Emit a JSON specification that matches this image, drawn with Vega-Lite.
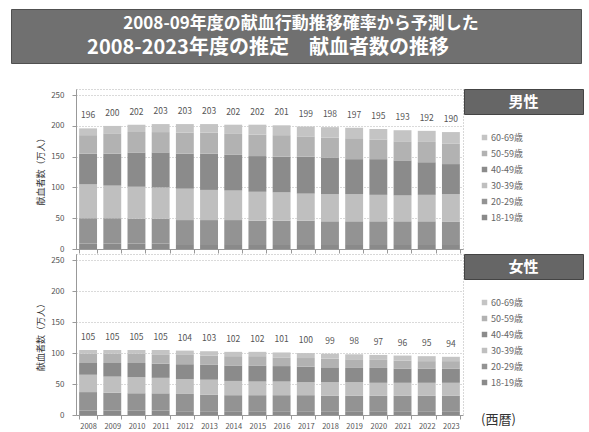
{
  "$schema": "https://vega.github.io/schema/vega-lite/v6.json",
  "padding": {"left": 10, "top": 8, "right": 0, "bottom": 0},
  "background": "white",
  "config": {
    "font": "Noto Sans CJK JP",
    "view": {"stroke": null},
    "axisY": {"gridColor": "#b5b5b5", "gridDash": [1, 2]}
  },
  "datasets": {
    "male": [
      {"year": "2008", "total": 196, "18-19歳": 9, "20-29歳": 41, "30-39歳": 55, "40-49歳": 50, "50-59歳": 30, "60-69歳": 11},
      {"year": "2009", "total": 200, "18-19歳": 9, "20-29歳": 41, "30-39歳": 53, "40-49歳": 52, "50-59歳": 33, "60-69歳": 12},
      {"year": "2010", "total": 202, "18-19歳": 9, "20-29歳": 40, "30-39歳": 52, "40-49歳": 56, "50-59歳": 33, "60-69歳": 12},
      {"year": "2011", "total": 203, "18-19歳": 9, "20-29歳": 40, "30-39歳": 51, "40-49歳": 57, "50-59歳": 33, "60-69歳": 13},
      {"year": "2012", "total": 203, "18-19歳": 8, "20-29歳": 39, "30-39歳": 51, "40-49歳": 57, "50-59歳": 34, "60-69歳": 14},
      {"year": "2013", "total": 203, "18-19歳": 8, "20-29歳": 39, "30-39歳": 49, "40-49歳": 59, "50-59歳": 34, "60-69歳": 14},
      {"year": "2014", "total": 202, "18-19歳": 8, "20-29歳": 39, "30-39歳": 48, "40-49歳": 58, "50-59歳": 34, "60-69歳": 15},
      {"year": "2015", "total": 202, "18-19歳": 8, "20-29歳": 38, "30-39歳": 47, "40-49歳": 58, "50-59歳": 35, "60-69歳": 16},
      {"year": "2016", "total": 201, "18-19歳": 8, "20-29歳": 38, "30-39歳": 46, "40-49歳": 58, "50-59歳": 35, "60-69歳": 16},
      {"year": "2017", "total": 199, "18-19歳": 8, "20-29歳": 38, "30-39歳": 44, "40-49歳": 60, "50-59歳": 33, "60-69歳": 16},
      {"year": "2018", "total": 198, "18-19歳": 8, "20-29歳": 37, "30-39歳": 44, "40-49歳": 59, "50-59歳": 33, "60-69歳": 17},
      {"year": "2019", "total": 197, "18-19歳": 8, "20-29歳": 37, "30-39歳": 44, "40-49歳": 57, "50-59歳": 34, "60-69歳": 17},
      {"year": "2020", "total": 195, "18-19歳": 8, "20-29歳": 37, "30-39歳": 43, "40-49歳": 58, "50-59歳": 32, "60-69歳": 17},
      {"year": "2021", "total": 193, "18-19歳": 8, "20-29歳": 37, "30-39歳": 42, "40-49歳": 57, "50-59歳": 31, "60-69歳": 18},
      {"year": "2022", "total": 192, "18-19歳": 8, "20-29歳": 37, "30-39歳": 43, "40-49歳": 53, "50-59歳": 33, "60-69歳": 18},
      {"year": "2023", "total": 190, "18-19歳": 8, "20-29歳": 36, "30-39歳": 45, "40-49歳": 49, "50-59歳": 33, "60-69歳": 19}
    ],
    "female": [
      {"year": "2008", "total": 105, "18-19歳": 7, "20-29歳": 30, "30-39歳": 28, "40-49歳": 19, "50-59歳": 15, "60-69歳": 6},
      {"year": "2009", "total": 105, "18-19歳": 7, "20-29歳": 29, "30-39歳": 26, "40-49歳": 22, "50-59歳": 15, "60-69歳": 6},
      {"year": "2010", "total": 105, "18-19歳": 7, "20-29歳": 28, "30-39歳": 26, "40-49歳": 23, "50-59歳": 15, "60-69歳": 6},
      {"year": "2011", "total": 105, "18-19歳": 7, "20-29歳": 28, "30-39歳": 25, "40-49歳": 23, "50-59歳": 15, "60-69歳": 7},
      {"year": "2012", "total": 104, "18-19歳": 6, "20-29歳": 28, "30-39歳": 24, "40-49歳": 24, "50-59歳": 15, "60-69歳": 7},
      {"year": "2013", "total": 103, "18-19歳": 6, "20-29歳": 27, "30-39歳": 24, "40-49歳": 24, "50-59歳": 15, "60-69歳": 7},
      {"year": "2014", "total": 102, "18-19歳": 6, "20-29歳": 26, "30-39歳": 23, "40-49歳": 25, "50-59歳": 15, "60-69歳": 7},
      {"year": "2015", "total": 102, "18-19歳": 6, "20-29歳": 26, "30-39歳": 22, "40-49歳": 26, "50-59歳": 15, "60-69歳": 7},
      {"year": "2016", "total": 101, "18-19歳": 6, "20-29歳": 26, "30-39歳": 22, "40-49歳": 25, "50-59歳": 14, "60-69歳": 8},
      {"year": "2017", "total": 100, "18-19歳": 6, "20-29歳": 26, "30-39歳": 21, "40-49歳": 25, "50-59歳": 14, "60-69歳": 8},
      {"year": "2018", "total": 99, "18-19歳": 6, "20-29歳": 25, "30-39歳": 22, "40-49歳": 24, "50-59歳": 14, "60-69歳": 8},
      {"year": "2019", "total": 98, "18-19歳": 6, "20-29歳": 25, "30-39歳": 22, "40-49歳": 23, "50-59歳": 14, "60-69歳": 8},
      {"year": "2020", "total": 97, "18-19歳": 6, "20-29歳": 25, "30-39歳": 21, "40-49歳": 24, "50-59歳": 13, "60-69歳": 8},
      {"year": "2021", "total": 96, "18-19歳": 6, "20-29歳": 25, "30-39歳": 21, "40-49歳": 23, "50-59歳": 13, "60-69歳": 8},
      {"year": "2022", "total": 95, "18-19歳": 6, "20-29歳": 25, "30-39歳": 21, "40-49歳": 23, "50-59歳": 12, "60-69歳": 8},
      {"year": "2023", "total": 94, "18-19歳": 6, "20-29歳": 25, "30-39歳": 21, "40-49歳": 23, "50-59歳": 12, "60-69歳": 7}
    ]
  },
  "spacing": 24,
  "resolve": {"scale": {"color": "independent"}, "legend": {"color": "independent"}},
  "vconcat": [
    {
      "width": 570,
      "height": 54,
      "view": {"fill": "#707070", "stroke": "#505050"},
      "data": {"values": [
        {"line": 1, "t": "2008-09年度の献血行動推移確率から予測した"},
        {"line": 2, "t": "2008-2023年度の推定　献血者数の推移"}
      ]},
      "encoding": {
        "y": {"field": "line", "type": "ordinal", "axis": null, "scale": {"type": "point", "padding": 0.6}},
        "text": {"field": "t"}
      },
      "layer": [
        {"transform": [{"filter": "datum.line == 1"}], "mark": {"type": "text", "fontSize": 17, "fontWeight": "bold", "color": "white", "dx": 5}},
        {"transform": [{"filter": "datum.line == 2"}], "mark": {"type": "text", "fontSize": 20, "fontWeight": "bold", "color": "white", "dx": -28}}
      ]
    },
    {
      "spacing": -3,
      "resolve": {"scale": {"color": "independent"}, "legend": {"color": "independent"}},
      "vconcat": [
        {
          "spacing": -10,
          "resolve": {"scale": {"color": "independent"}, "legend": {"color": "independent"}},
          "hconcat": [
            {"width": 35, "height": 10, "data": {"values": [{"t": ""}]}, "mark": {"type": "text"}, "encoding": {"text": {"field": "t"}}},
            {
              "width": 387,
              "height": 160,
              "view": {"stroke": "#b0b0b0", "strokeDash": [1, 2]},
              "data": {"name": "male"},
              "encoding": {
                "x": {"field": "year", "type": "ordinal", "scale": {"paddingInner": 0.26, "paddingOuter": 0.13},
                  "axis": {"labels": false, "title": null, "tickBand": "extent", "domainColor": "#999", "tickColor": "#999", "tickSize": 4}}
              },
              "layer": [
                {
                  "transform": [{"fold": ["18-19歳", "20-29歳", "30-39歳", "40-49歳", "50-59歳", "60-69歳"], "as": ["age", "v"]}],
                  "mark": {"type": "bar"},
                  "encoding": {
                    "y": {"field": "v", "type": "quantitative", "stack": "zero", "scale": {"domain": [0, 250]}, "title": "献血者数（万人）",
                      "axis": {"tickCount": 5, "titleFontSize": 9, "titleColor": "#333", "titleFontWeight": "normal", "titlePadding": 5, "labelPadding": 8, "tickSize": 4,
                        "labelFontSize": 8, "labelColor": "#555", "tickColor": "#999", "domainColor": "#999"}},
                    "color": {"field": "age", "type": "nominal",
                      "scale": {"domain": ["60-69歳", "50-59歳", "40-49歳", "30-39歳", "20-29歳", "18-19歳"], "range": ["#c4c4c4", "#b2b2b2", "#8b8b8b", "#bfbfbf", "#939393", "#8a8a8a"]},
                      "legend": null},
                    "order": {"field": "age", "sort": "ascending"}
                  }
                },
                {
                  "mark": {"type": "text", "dy": -13, "fontSize": 8.5, "color": "#555"},
                  "encoding": {
                    "y": {"field": "total", "type": "quantitative", "title": "献血者数（万人）"},
                    "text": {"field": "total"}
                  }
                }
              ]
            },
            {
              "width": 119,
              "height": 25,
              "view": {"fill": "#666666", "stroke": "#444444"},
              "layer": [
                {"data": {"values": [{"t": "男性"}]}, "mark": {"type": "text", "color": "white", "fontSize": 15, "fontWeight": "bold"}, "encoding": {"text": {"field": "t"}}},
                {
                  "data": {"name": "male"},
                  "transform": [{"fold": ["18-19歳"], "as": ["age", "v"]}, {"filter": "false"}],
                  "mark": {"type": "square", "opacity": 1},
                  "encoding": {
                    "color": {"field": "age", "type": "nominal",
                      "scale": {"domain": ["60-69歳", "50-59歳", "40-49歳", "30-39歳", "20-29歳", "18-19歳"], "range": ["#c4c4c4", "#b2b2b2", "#8b8b8b", "#bfbfbf", "#939393", "#8a8a8a"]},
                      "legend": {"orient": "none", "legendX": 16, "legendY": 44, "title": null, "symbolType": "square", "symbolSize": 30, "symbolStrokeWidth": 0,
                        "labelFontSize": 9, "labelColor": "#666", "labelOffset": 2, "rowPadding": 6, "direction": "vertical"}}
                  }
                }
              ]
            }
          ]
        },
        {
          "spacing": -18,
          "resolve": {"scale": {"color": "independent"}, "legend": {"color": "independent"}},
          "hconcat": [
            {"width": 43, "height": 10, "data": {"values": [{"t": ""}]}, "mark": {"type": "text"}, "encoding": {"text": {"field": "t"}}},
            {
              "width": 387,
              "height": 161,
              "view": {"stroke": "#b0b0b0", "strokeDash": [1, 2]},
              "data": {"name": "female"},
              "encoding": {
                "x": {"field": "year", "type": "ordinal", "scale": {"paddingInner": 0.26, "paddingOuter": 0.13},
                  "axis": {"labelAngle": 0, "labelFontSize": 7.5, "labelColor": "#555", "labelPadding": 3, "title": null, "tickBand": "extent", "domainColor": "#999", "tickColor": "#999", "tickSize": 4}}
              },
              "layer": [
                {
                  "transform": [{"fold": ["18-19歳", "20-29歳", "30-39歳", "40-49歳", "50-59歳", "60-69歳"], "as": ["age", "v"]}],
                  "mark": {"type": "bar"},
                  "encoding": {
                    "y": {"field": "v", "type": "quantitative", "stack": "zero", "scale": {"domain": [0, 250]}, "title": "献血者数（万人）",
                      "axis": {"tickCount": 5, "titleFontSize": 9, "titleColor": "#333", "titleFontWeight": "normal", "titlePadding": 5, "labelPadding": 8, "tickSize": 4,
                        "labelFontSize": 8, "labelColor": "#555", "tickColor": "#999", "domainColor": "#999"}},
                    "color": {"field": "age", "type": "nominal",
                      "scale": {"domain": ["60-69歳", "50-59歳", "40-49歳", "30-39歳", "20-29歳", "18-19歳"], "range": ["#c4c4c4", "#b2b2b2", "#8b8b8b", "#bfbfbf", "#939393", "#8a8a8a"]},
                      "legend": null},
                    "order": {"field": "age", "sort": "ascending"}
                  }
                },
                {
                  "mark": {"type": "text", "dy": -13, "fontSize": 8.5, "color": "#555"},
                  "encoding": {
                    "y": {"field": "total", "type": "quantitative", "title": "献血者数（万人）"},
                    "text": {"field": "total"}
                  }
                }
              ]
            },
            {
              "width": 119,
              "height": 25,
              "view": {"fill": "#666666", "stroke": "#444444"},
              "title": {"text": "(西暦)", "orient": "bottom", "anchor": "start", "frame": "group", "offset": 26, "dx": 17, "fontSize": 13, "fontWeight": "normal", "color": "#333"},
              "layer": [
                {"data": {"values": [{"t": "女性"}]}, "mark": {"type": "text", "color": "white", "fontSize": 15, "fontWeight": "bold"}, "encoding": {"text": {"field": "t"}}},
                {
                  "data": {"name": "female"},
                  "transform": [{"fold": ["18-19歳"], "as": ["age", "v"]}, {"filter": "false"}],
                  "mark": {"type": "square", "opacity": 1},
                  "encoding": {
                    "color": {"field": "age", "type": "nominal",
                      "scale": {"domain": ["60-69歳", "50-59歳", "40-49歳", "30-39歳", "20-29歳", "18-19歳"], "range": ["#c4c4c4", "#b2b2b2", "#8b8b8b", "#bfbfbf", "#939393", "#8a8a8a"]},
                      "legend": {"orient": "none", "legendX": 16, "legendY": 44, "title": null, "symbolType": "square", "symbolSize": 30, "symbolStrokeWidth": 0,
                        "labelFontSize": 9, "labelColor": "#666", "labelOffset": 2, "rowPadding": 6, "direction": "vertical"}}
                  }
                }
              ]
            }
          ]
        }
      ]
    }
  ]
}
